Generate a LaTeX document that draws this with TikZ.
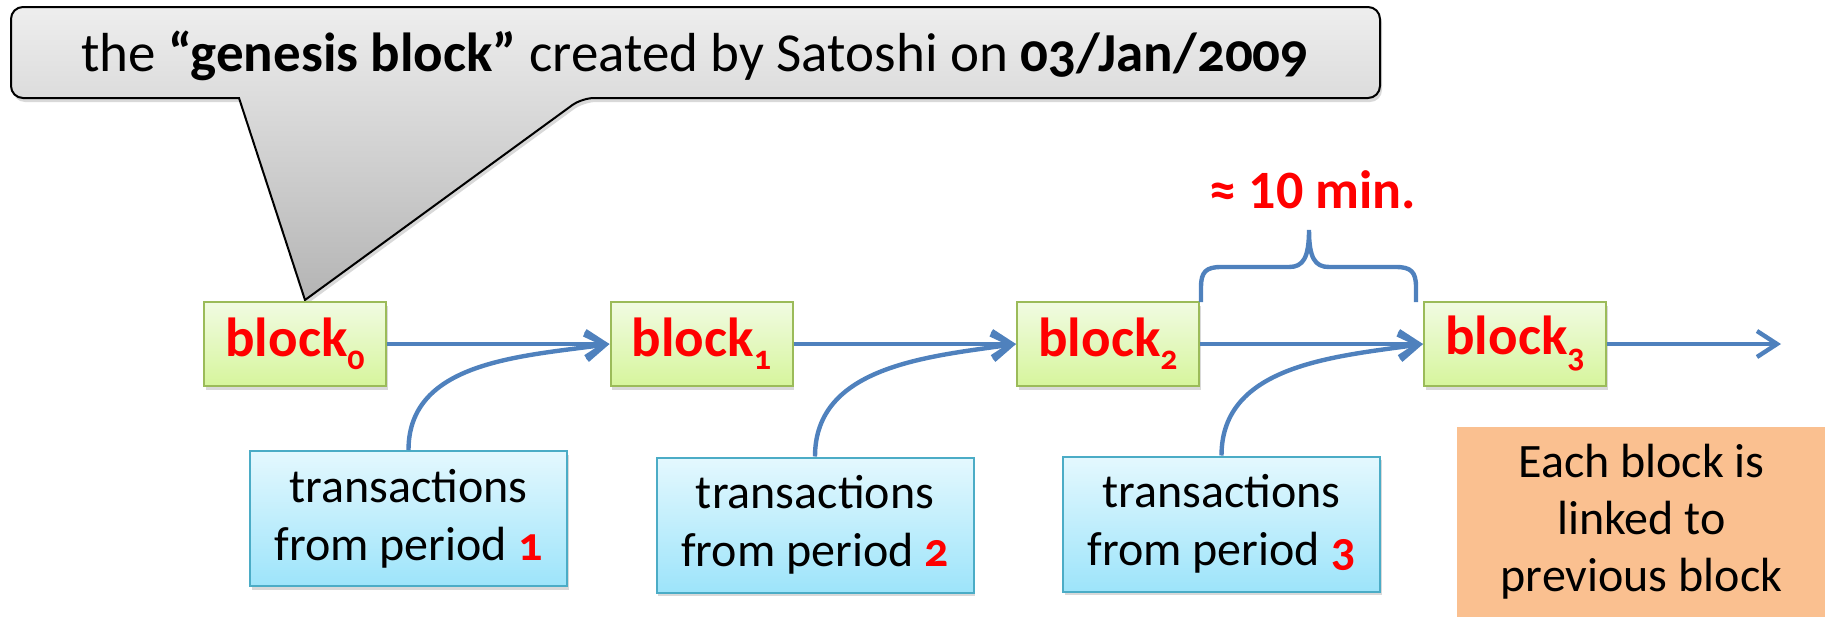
\documentclass[tikz,border=0pt]{standalone}
\usepackage{fontspec}
\setmainfont{Carlito}
\usetikzlibrary{arrows.meta,shadows,calc}
\definecolor{linkblue}{HTML}{4F81BD}
\definecolor{blockedge}{HTML}{9BBB59}
\definecolor{blocktop}{HTML}{F1FBE2}
\definecolor{blockbot}{HTML}{D6F59C}
\definecolor{txedge}{HTML}{4BACC6}
\definecolor{txtop}{HTML}{E4F8FE}
\definecolor{txbot}{HTML}{9DE4FA}
\definecolor{noteorange}{HTML}{FAC090}
\definecolor{calltop}{HTML}{EEEEEE}
\definecolor{callbot}{HTML}{B4B4B4}
\newcommand{\os}[1]{{\addfontfeatures{Numbers=OldStyle}#1}}
\newcommand{\blk}[1]{block\raisebox{-6.5pt}{\fontsize{17}{17}\selectfont\os{#1}}}
\begin{document}
\begin{tikzpicture}[x=0.5pt,y=-0.5pt,
  blockbox/.style={draw=blockedge,line width=1pt,top color=blocktop,bottom color=blockbot,
    minimum width=91pt,minimum height=42pt,inner sep=0pt,
    font=\fontsize{27.5}{30}\selectfont\bfseries,text=red,
    drop shadow={shadow xshift=0.8pt,shadow yshift=-1.8pt,opacity=0.3}},
  txbox/.style={draw=txedge,line width=1pt,top color=txtop,bottom color=txbot,
    minimum width=158.5pt,minimum height=67.5pt,inner sep=0pt,align=center,
    font=\fontsize{24}{29}\selectfont,
    drop shadow={shadow xshift=0.8pt,shadow yshift=-1.8pt,opacity=0.3}},
  notebox/.style={fill=noteorange,minimum width=184.5pt,minimum height=95pt,inner sep=0pt,
    align=center,font=\fontsize{24}{28.5}\selectfont},
  link/.style={draw=linkblue,line width=2.2pt,
    -{Straight Barb[length=10pt,width=13pt,line width=2.2pt]}},
  bracestyle/.style={draw=linkblue,line width=2.2pt},
  calloutstyle/.style={draw=black,line width=1pt,top color=calltop,bottom color=callbot,
    drop shadow={shadow xshift=1pt,shadow yshift=-2pt,opacity=0.3}}
]
\useasboundingbox (0,0) rectangle (1825,616);

% callout
\coordinate (tip) at (305,300);
\path[calloutstyle] (239,98) [rounded corners=6pt] -- (11,98) -- (11,7) -- (1380,7) -- (1380,98) -- (582,98) [sharp corners] -- (tip) -- cycle;
\node[font=\fontsize{27.5}{32}\selectfont,anchor=base] (title) at (695,71)
  {the \textbf{“genesis block”} created by Satoshi on \textbf{\os{03/Jan/2009}}};

% blocks
\node[blockbox] (b0) at (295,344) {\blk{0}};
\node[blockbox] (b1) at (701.5,344) {\blk{1}};
\node[blockbox] (b2) at (1108,344) {\blk{2}};
\node[blockbox] (b3) at (1515,344) {\blk{3}};
\coordinate (chainend) at (1781,344);

% transactions
\node[txbox] (t1) at (408.5,518.5) {\rule{0pt}{3pt}transactions\\from period \textcolor{red}{\textbf{\os{1}}}};
\node[txbox] (t2) at (815,525) {\rule{0pt}{3pt}transactions\\from period \textcolor{red}{\textbf{\os{2}}}};
\node[txbox] (t3) at (1221.5,524) {\rule{0pt}{3pt}transactions\\from period \textcolor{red}{\textbf{\os{3}}}};

% note
\node[notebox] (note) at (1641.5,522) {Each block is\\linked to\\previous block};

% links
\draw[link] (b0.east) -- (b1.west);
\draw[link] (b1.east) -- (b2.west);
\draw[link] (b2.east) -- (b3.west);
\draw[link] (b3.east) -- (chainend);
\draw[link] (t1.north) to[out=90,in=188] (b1.west);
\draw[link] (t2.north) to[out=90,in=188] (b2.west);
\draw[link] (t3.north) to[out=90,in=188] (b3.west);

% brace
\draw[bracestyle] (1201,302) -- (1201,287) .. controls (1201,272) and (1206,267) .. (1221,267)
  -- (1289,267) .. controls (1303,267) and (1309,258) .. (1309,230)
  .. controls (1309,258) and (1315,267) .. (1329,267) -- (1396,267)
  .. controls (1411,267) and (1416,272) .. (1416,287) -- (1416,302);
\node[font=\fontsize{27}{30}\selectfont\bfseries,text=red] (tenmin) at (1313,190) {≈ 10 min.};
\end{tikzpicture}
\end{document}
